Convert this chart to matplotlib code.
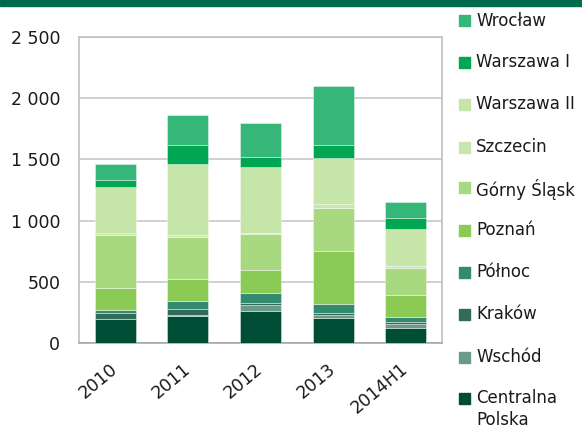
import numpy as np
import matplotlib
matplotlib.use('Agg')
import matplotlib.pyplot as plt
from matplotlib.patches import Rectangle
from matplotlib.ticker import FuncFormatter

plt.rcParams['font.family'] = ['DejaVu Sans']

years = ['2010', '2011', '2012', '2013', '2014H1']

# serie od dołu słupka
regions = ['Centralna\nPolska', 'Wschód', 'Kraków', 'Północ', 'Poznań',
           'Górny Śląsk', 'Szczecin', 'Warszawa II', 'Warszawa I', 'Wrocław']
centralna = [195, 222, 264, 210, 125]
wschod = [5, 5, 46, 18, 32]
krakow = [44, 55, 20, 16, 14]
polnoc = [27, 65, 82, 76, 46]
poznan = [179, 179, 188, 434, 179]
gorny = [434, 342, 293, 353, 215]
szczecin = [12, 16, 10, 27, 20]
warszawa2 = [379, 582, 533, 381, 305]
warszawa1 = [55, 149, 84, 105, 87]
wroclaw = [136, 250, 274, 481, 128]

series = [centralna, wschod, krakow, polnoc, poznan, gorny, szczecin,
          warszawa2, warszawa1, wroclaw]
colors = ['#004d36', '#6a9a88', '#336b5a', '#348a70', '#8bcb55',
          '#a8d880', '#c8e6ad', '#c5e5a9', '#00a651', '#36b77a']

fig = plt.figure(figsize=(5.82, 4.28), dpi=100)
W, H = 582, 428
ax = fig.add_axes([79 / W, 1 - 343.3 / H, (442 - 79) / W, (343.3 - 36.7) / H])

x = np.arange(len(years))
bottom = np.zeros(len(years))
for vals, c in zip(series, colors):
    ax.bar(x, vals, bottom=bottom, width=0.565, color=c,
           edgecolor=(1, 1, 1, 0.45), linewidth=0.6, zorder=3)
    bottom += np.array(vals)

ax.set_xlim(-0.5, len(years) - 0.5)
ax.set_ylim(0, 2500)
ax.set_yticks(np.arange(0, 2501, 500))
ax.yaxis.set_major_formatter(FuncFormatter(lambda v, p: f'{int(v):,}'.replace(',', ' ')))
ax.grid(axis='y', color='#c8c8c8', linewidth=1.2, zorder=0)
for s in ax.spines.values():
    s.set_color('#c0c0c0')
    s.set_linewidth(1.2)
ax.spines['bottom'].set_color('#a8a8a8')
ax.tick_params(length=0, labelsize=12.5, colors='#1a1a1a')
ax.tick_params(axis='y', pad=13.5)
ax.set_xticks(x)
ax.set_xticklabels(years, rotation=40, ha='right', va='center', rotation_mode='anchor')
ax.tick_params(axis='x', pad=17)

# pasek u góry
fig.add_artist(Rectangle((0, 1 - 5.5 / H), 1, 5.5 / H, transform=fig.transFigure,
                         color='#006a4e', zorder=5))

# legenda
leg_y = [398, 357, 314, 272, 230, 188, 147, 104, 62, 20.5]
for lab, c, yc in zip(regions, colors, leg_y):
    fig.add_artist(Rectangle((459 / W, 1 - (yc + 5.5) / H), 11 / W, 11 / H,
                             transform=fig.transFigure, color=c))
    fig.text(476 / W, 1 - (yc - 9) / H, lab, fontsize=12, va='top', ha='left',
             color='#1a1a1a', linespacing=1.3)

fig.savefig('out.png', dpi=100)
